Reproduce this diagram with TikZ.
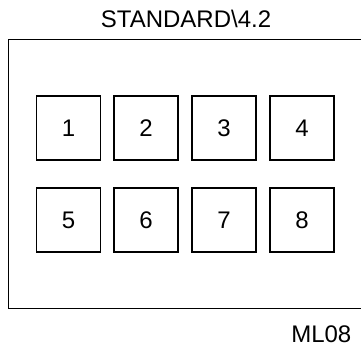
\documentclass[tikz,border=0pt]{standalone}
\usepackage{fontspec}
\setmainfont{Liberation Sans}
\begin{document}
\begin{tikzpicture}[x=1pt,y=-1pt,
  cell/.style={draw, line width=1.2pt, minimum width=64pt, minimum height=64pt, inner sep=0pt, font=\fontsize{24}{28}\selectfont},
  lbl/.style={inner sep=0pt, font=\fontsize{24}{28}\selectfont}]
\useasboundingbox (0,0) rectangle (361,347);
\begin{scope}
\clip (0,0) rectangle (361,347);
\draw[line width=1.6pt] (370,39.5) -- (8.5,39.5) -- (8.5,308.5) -- (370,308.5);
\end{scope}
\node[lbl, anchor=base] (title) at (186,27.5) {STANDARD\textbackslash4.2};
\node[lbl, anchor=base east] (code) at (351.5,342) {ML08};
\node[cell] (c1) at (68.5,128) {1};
\node[cell] (c2) at (146,128) {2};
\node[cell] (c3) at (224,128) {3};
\node[cell] (c4) at (302,128) {4};
\node[cell] (c5) at (68.5,220) {5};
\node[cell] (c6) at (146,220) {6};
\node[cell] (c7) at (224,220) {7};
\node[cell] (c8) at (302,220) {8};
\end{tikzpicture}
\end{document}
